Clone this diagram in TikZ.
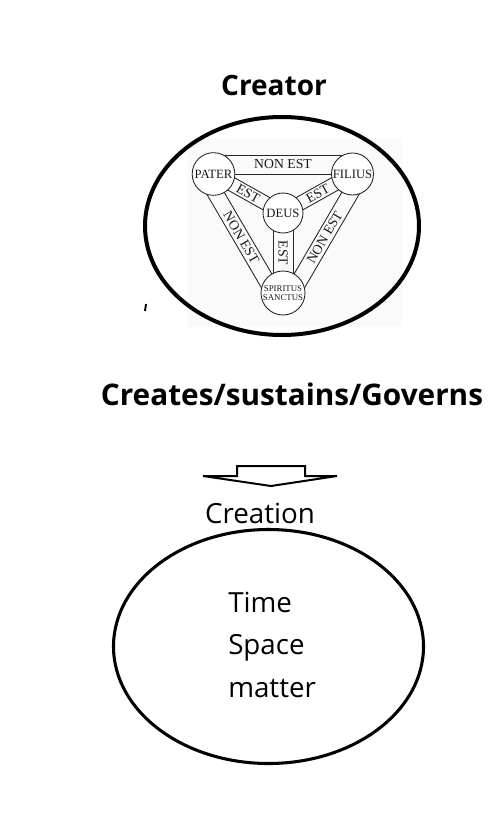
\documentclass[tikz,border=0pt]{standalone}
\usepackage{fontspec}
\setmainfont{Open Sans}
\newfontfamily\shieldfont{Liberation Serif}
\usetikzlibrary{calc,backgrounds,shapes.geometric}

\tikzset{
  heading/.style={anchor=base, inner sep=0pt, font=\fontsize{21}{25}\selectfont\bfseries},
  plain/.style={inner sep=0pt, font=\fontsize{20.8}{25}\selectfont},
  persona/.style={circle, draw=black!85, line width=0.65pt, fill=white, inner sep=0pt,
    minimum size=32pt, text=black!90, font=\shieldfont\fontsize{9.5}{9.5}\selectfont},
  bandtext/.style={inner sep=0pt, text=black!90, font=\shieldfont\fontsize{10.3}{10.3}\selectfont},
  band/.style={draw=black!85, line width=0.65pt},
  orb/.style={draw, ellipse, inner sep=0pt},
}

\begin{document}
\begin{tikzpicture}[x=0.75pt,y=0.75pt,yscale=-1,xscale=1]
  \useasboundingbox (0,0) rectangle (501,831);

  % upper part
  \draw (274,96) node [heading] (creator) {Creator};
  \node [orb, line width=3pt, minimum width=205.5pt, minimum height=163.5pt] (godhead) at (282,226) {};
  \draw [line width=1.4pt] (146,304) -- (145,311);

  \node [persona] (pater) at (213.5,174) {PATER};
  \node [persona, minimum size=31.5pt] (filius) at (352.5,174) {FILIUS};
  \node [persona, minimum size=30pt] (deus) at (283,213) {DEUS};
  \node [persona, minimum size=33pt, align=center, font=\shieldfont\fontsize{6.6}{6.6}\selectfont] (sanctus) at (283,293) {SPIRITUS\\SANCTUS};

  \begin{scope}[on background layer]
    \fill [black!2] (188,138) rectangle (403,327);
    \draw [band] (pater.center) -- (filius.center);
    \draw [band] ($(pater.center)!14.25pt!-90:(filius.center)$) -- ($(filius.center)!14.25pt!90:(pater.center)$);
    \draw [band] (pater.center) -- (sanctus.center);
    \draw [band] ($(pater.center)!12pt!90:(sanctus.center)$) -- ($(sanctus.center)!12pt!-90:(pater.center)$);
    \draw [band] (filius.center) -- (sanctus.center);
    \draw [band] ($(filius.center)!12pt!-90:(sanctus.center)$) -- ($(sanctus.center)!12pt!90:(filius.center)$);
    \draw [band] ($(pater.center)!5.25pt!90:(deus.center)$) -- ($(deus.center)!5.25pt!-90:(pater.center)$);
    \draw [band] ($(pater.center)!5.25pt!-90:(deus.center)$) -- ($(deus.center)!5.25pt!90:(pater.center)$);
    \draw [band] ($(filius.center)!5.25pt!90:(deus.center)$) -- ($(deus.center)!5.25pt!-90:(filius.center)$);
    \draw [band] ($(filius.center)!5.25pt!-90:(deus.center)$) -- ($(deus.center)!5.25pt!90:(filius.center)$);
    \draw [band] ($(deus.center)!7.5pt!90:(sanctus.center)$) -- ($(sanctus.center)!7.5pt!-90:(deus.center)$);
    \draw [band] ($(deus.center)!7.5pt!-90:(sanctus.center)$) -- ($(sanctus.center)!7.5pt!90:(deus.center)$);
  \end{scope}

  \node [bandtext] (nonest-top) at ($(pater)!0.5!(filius)+(0,-9.5)$) {NON EST};
  \node [bandtext, rotate=-59.7] (nonest-left) at ($(pater)!0.5!(sanctus)+(-6.9,4)$) {NON EST};
  \node [bandtext, rotate=59.7] (nonest-right) at ($(filius)!0.5!(sanctus)+(6.9,4)$) {NON EST};
  \node [bandtext, rotate=-29.3] (est-left) at ($(pater)!0.5!(deus)$) {EST};
  \node [bandtext, rotate=29.3] (est-right) at ($(filius)!0.5!(deus)$) {EST};
  \node [bandtext, rotate=-90] (est-down) at ($(deus)!0.5!(sanctus)$) {EST};

  % lower part
  \draw (292,405) node [heading, font=\fontsize{22.3}{26}\selectfont\bfseries] (creates) {Creates/sustains/Governs};
  \draw [line width=1.5pt, line join=miter] (237,476) -- (237,466) -- (305,466) -- (305,476) -- (337,476) -- (271,486) -- (203,476) -- cycle;
  \draw (260,523) node [plain, anchor=base] (creation) {Creation};
  \node [orb, line width=2.3pt, minimum width=232.5pt, minimum height=175.5pt] (cosmos) at (268.5,646.5) {};
  \draw (228,612) node [plain, anchor=base west] (time) {Time};
  \draw (228,654) node [plain, anchor=base west] (space) {Space};
  \draw (228,697) node [plain, anchor=base west] (matter) {matter};
\end{tikzpicture}
\end{document}
